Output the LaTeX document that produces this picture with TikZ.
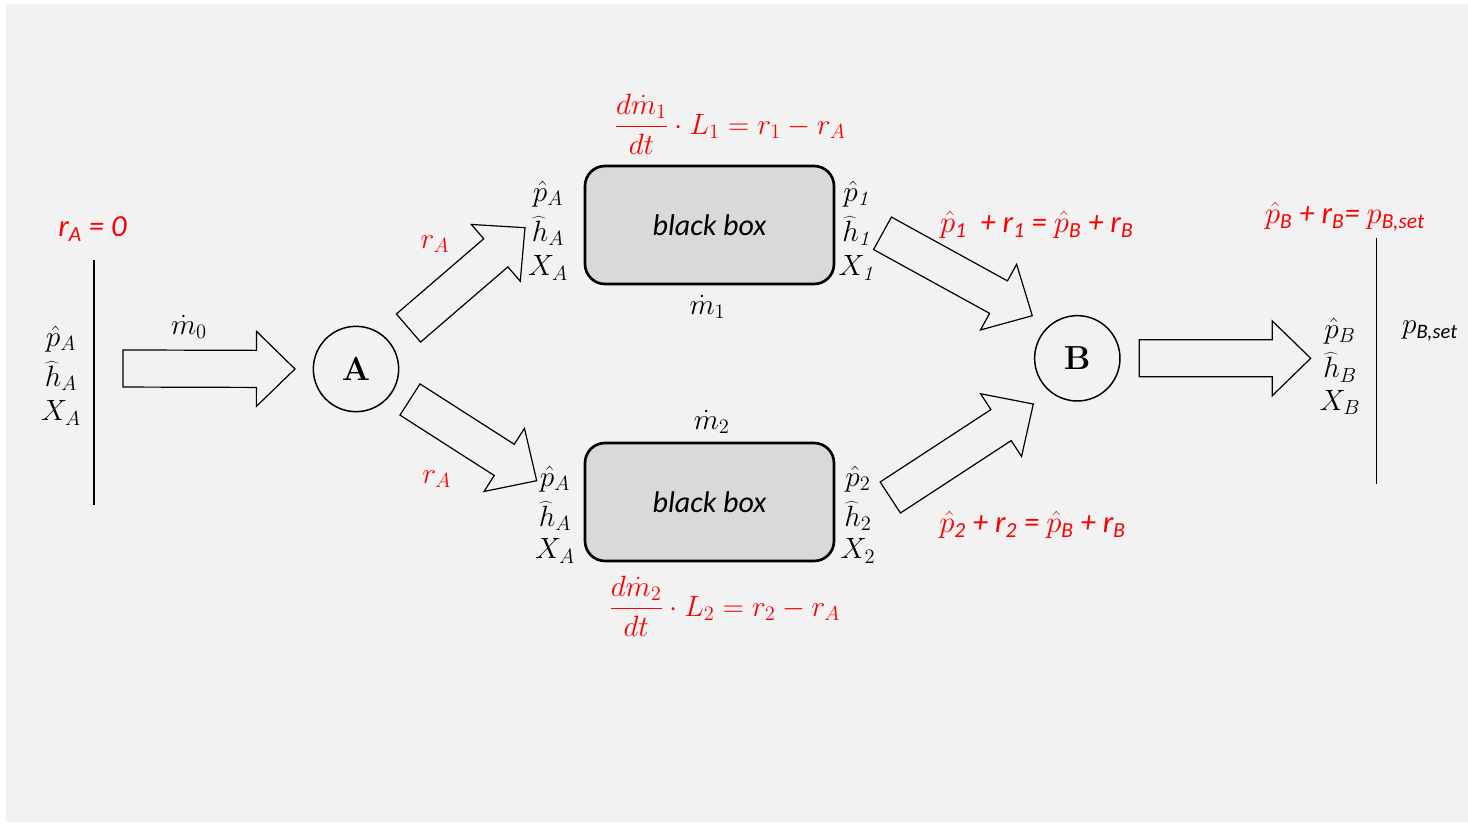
\RequirePackage{fix-cm}
\documentclass[tikz,border=0pt]{standalone}
\usepackage[no-math]{fontspec}
\setmainfont{Carlito}
\usetikzlibrary{calc}

\definecolor{bg}{HTML}{F2F2F2}
\definecolor{boxgray}{HTML}{D9D9D9}

% block arrow geometry
\def\arrbody{13.9pt}
\def\arrhead{28.1pt}
\def\arrneck{28.9pt}

% hollow block arrow from tail coordinate #1 to tip coordinate #2
\newcommand\fatarrow[2]{%
  \coordinate (#1-neck) at ($(#2)!\arrneck!(#1)$);
  \draw[fat] ($(#1)!\arrbody!90:(#2)$)
    -- ($(#1-neck)!\arrbody!90:(#2)$)
    -- ($(#1-neck)!\arrhead!90:(#2)$)
    -- (#2)
    -- ($(#1-neck)!\arrhead!-90:(#2)$)
    -- ($(#1-neck)!\arrbody!-90:(#2)$)
    -- ($(#1)!\arrbody!-90:(#2)$) -- cycle;}

\newcommand\ph{$\hat{p}$}

\tikzset{
  lbl/.style={inner sep=0pt, font=\fontsize{22}{26}\selectfont},
  redlbl/.style={lbl, text=red},
  fraceq/.style={inner sep=0pt, text=red, font=\fontsize{22}{26}\selectfont},
  eq/.style={inner sep=0pt, text=red, font=\fontsize{23}{27}\selectfont\itshape},
  bbox/.style={draw, line width=2pt, fill=boxgray, rounded corners=15pt,
    minimum width=186.75pt, minimum height=88.5pt,
    font=\fontsize{22.5}{26}\selectfont\itshape},
  junction/.style={draw, circle, line width=1.1pt, minimum size=64pt,
    inner sep=0pt, font=\fontsize{25}{28}\selectfont},
  fat/.style={draw, line width=0.9pt, line join=miter},
  wall/.style={line width=1.1pt}
}

\begin{document}
\begin{tikzpicture}[x=0.75pt,y=-0.75pt]
\useasboundingbox (0,0) rectangle (1468,825);
\fill[white] (0,0) rectangle (1468,825);
\fill[bg] (6,4) rectangle (1468,822);

% inlet boundary
\coordinate (wl1) at (94,260);
\coordinate (wl2) at (94,505);
\draw[wall] (wl1) -- (wl2);
\node[eq] (rA0) at (92.5,229) {r\textsubscript{A} = 0};
\node[lbl] (inp) at (61,339) {$\hat{p}_A$};
\node[lbl] (inh) at (61,376) {$\widehat{h}_A$};
\node[lbl] (inX) at (61,413) {$X_A$};

% junctions
\node[junction] (A) at (356,369) {$\mathbf{A}$};
\node[junction] (B) at (1077.3,358.3) {$\mathbf{B}$};

% inlet flow
\coordinate (a0t) at (123,368.5);
\coordinate (a0h) at (295,369);
\fatarrow{a0t}{a0h}
\node[lbl] (m0) at (189,327) {$\dot{m}_0$};

% branch 1
\node[bbox] (box1) at (709.5,225) {black box};
\coordinate (a1t) at (408.5,328);
\coordinate (a1h) at (525,227.7);
\fatarrow{a1t}{a1h}
\node[redlbl] (rA1) at (435,244) {$r_A$};
\node[lbl] (b1p) at (548,194) {$\hat{p}_A$};
\node[lbl] (b1h) at (548,231) {$\widehat{h}_A$};
\node[lbl] (b1X) at (548,268) {$X_A$};
\node[lbl] (o1p) at (857.5,194) {$\hat{p}_{\mathit{1}}$};
\node[lbl] (o1h) at (857.5,231) {$\widehat{h}_{\mathit{1}}$};
\node[lbl] (o1X) at (857.5,268) {$X_{\mathit{1}}$};
\node[lbl] (m1) at (707.5,307) {$\dot{m}_1$};
\node[fraceq] (eq1) at (730,124) {$\displaystyle\frac{d\dot{m}_1}{dt}\cdot L_1 = r_1 - r_A$};

% branch 2
\node[bbox] (box2) at (709.5,502) {black box};
\coordinate (a2t) at (410,399.5);
\coordinate (a2h) at (536.7,480.7);
\fatarrow{a2t}{a2h}
\node[redlbl] (rA2) at (436.7,479) {$r_A$};
\node[lbl] (b2p) at (555,479) {$\hat{p}_A$};
\node[lbl] (b2h) at (555,516) {$\widehat{h}_A$};
\node[lbl] (b2X) at (555,551) {$X_A$};
\node[lbl] (o2p) at (858,479) {$\hat{p}_2$};
\node[lbl] (o2h) at (858,516) {$\widehat{h}_2$};
\node[lbl] (o2X) at (858,551) {$X_2$};
\node[lbl] (m2) at (711.7,422) {$\dot{m}_2$};
\node[fraceq] (eq2) at (724.7,606) {$\displaystyle\frac{d\dot{m}_2}{dt}\cdot L_2 = r_2 - r_A$};

% merging flows into B
\coordinate (a3t) at (882.5,233.3);
\coordinate (a3h) at (1032.3,315.7);
\fatarrow{a3t}{a3h}
\coordinate (a4t) at (890.3,497.5);
\coordinate (a4h) at (1033.3,404);
\fatarrow{a4t}{a4h}
\node[eq] (eqB1) at (1036.7,225) {\ph\textsubscript{1}\ \ + r\textsubscript{1} = \ph\textsubscript{B} + r\textsubscript{B}};
\node[eq] (eqB2) at (1032.5,525) {\ph\textsubscript{2} + r\textsubscript{2} = \ph\textsubscript{B} + r\textsubscript{B}};

% outlet flow and boundary
\coordinate (a5t) at (1139.3,358.3);
\coordinate (a5h) at (1310.7,358.3);
\fatarrow{a5t}{a5h}
\node[lbl] (outp) at (1340,331) {$\hat{p}_B$};
\node[lbl] (outh) at (1340,367.5) {$\widehat{h}_B$};
\node[lbl] (outX) at (1340,402.5) {$X_B$};
\coordinate (wr1) at (1376.7,238.3);
\coordinate (wr2) at (1376.7,484.3);
\draw[wall] (wr1) -- (wr2);
\node[lbl] (pset) at (1430,331) {$p$\textsubscript{\itshape B,set}};
\node[eq] (eqset) at (1345,216.7) {\ph\textsubscript{B}\ + r\textsubscript{B}= $p$\textsubscript{B,set}};
\end{tikzpicture}
\end{document}
